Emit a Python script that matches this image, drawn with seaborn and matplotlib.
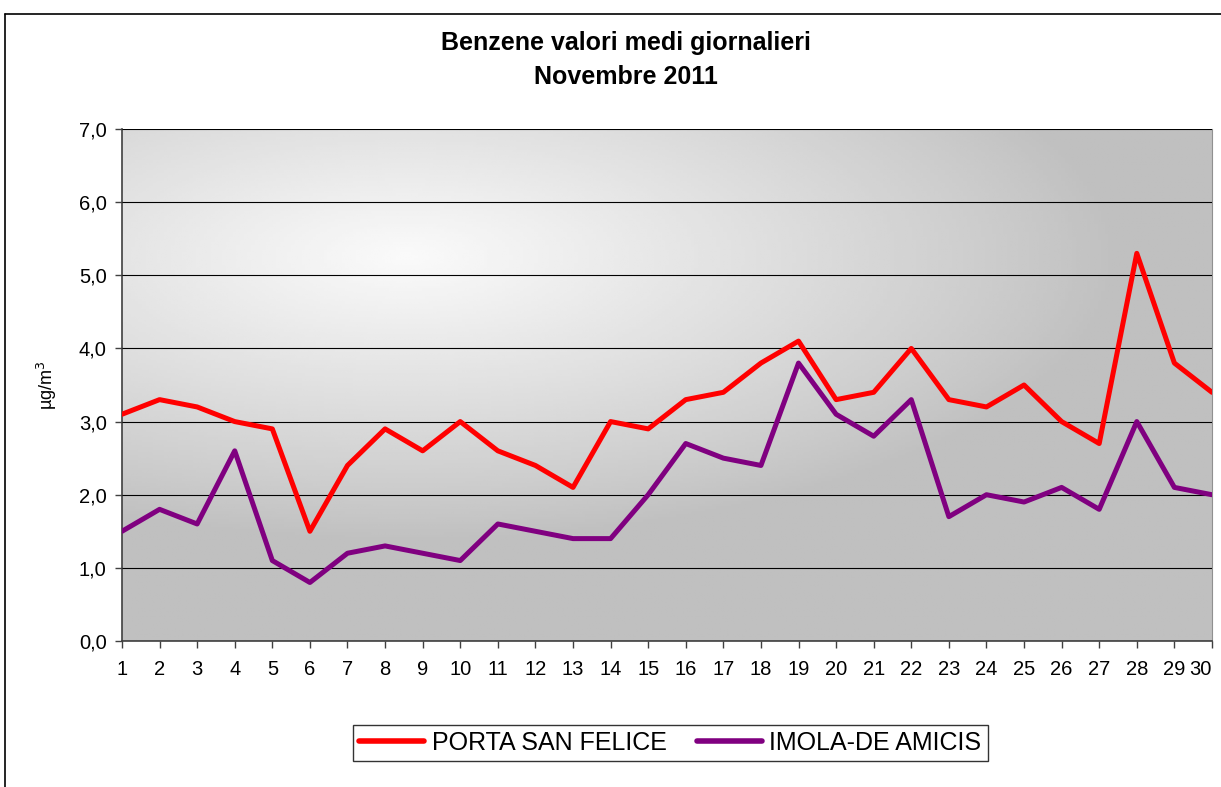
import numpy as np
import pandas as pd
import matplotlib.pyplot as plt
import seaborn as sns
from matplotlib.ticker import FuncFormatter

# --- data ---
giorni = list(range(1, 31))
porta_san_felice = [3.1, 3.3, 3.2, 3.0, 2.9, 1.5, 2.4, 2.9, 2.6, 3.0,
                    2.6, 2.4, 2.1, 3.0, 2.9, 3.3, 3.4, 3.8, 4.1, 3.3,
                    3.4, 4.0, 3.3, 3.2, 3.5, 3.0, 2.7, 5.3, 3.8, 3.4]
imola_de_amicis = [1.5, 1.8, 1.6, 2.6, 1.1, 0.8, 1.2, 1.3, 1.2, 1.1,
                   1.6, 1.5, 1.4, 1.4, 2.0, 2.7, 2.5, 2.4, 3.8, 3.1,
                   2.8, 3.3, 1.7, 2.0, 1.9, 2.1, 1.8, 3.0, 2.1, 2.0]
stazioni = ["PORTA SAN FELICE", "IMOLA-DE AMICIS"]
colori = ["#ff0000", "#800080"]

df = pd.DataFrame({
    "giorno": giorni * 2,
    "valore": porta_san_felice + imola_de_amicis,
    "stazione": [stazioni[0]] * 30 + [stazioni[1]] * 30,
})

sns.set_style("white")
plt.rcParams["font.family"] = ["Liberation Sans", "DejaVu Sans"]
plt.rcParams["text.color"] = "black"
plt.rcParams["xtick.color"] = "black"
plt.rcParams["ytick.color"] = "black"
plt.rcParams["axes.labelcolor"] = "black"

fig = plt.figure(figsize=(12.21, 7.87), dpi=100)
ax = fig.add_axes([0.0999, 0.1855, 0.8927, 0.6506])

# --- gradient background (light top-left, gray bottom/right) ---
gx, gy = np.meshgrid(np.linspace(0, 1, 300), np.linspace(0, 1, 200))
d = np.sqrt(((gx - 0.26) / 1.0) ** 2 + ((gy - 0.75) / 0.85) ** 2)
t = np.clip(1 - d / 0.65, 0, 1)
shade = (192 + (250 - 192) * t ** 0.9) / 255.0
ax.imshow(shade, cmap="gray", vmin=0, vmax=1, origin="lower",
          extent=[0, 1, 0, 1], transform=ax.transAxes, aspect="auto", zorder=0)

sns.lineplot(data=df, x="giorno", y="valore", hue="stazione",
             palette=dict(zip(stazioni, colori)), linewidth=3.6,
             ax=ax, legend=False, zorder=3)

ax.set_xlim(1, 30)
ax.set_ylim(0, 7)
ax.set_xticks(giorni)
ax.set_yticks(np.arange(0, 8, 1))
ax.yaxis.set_major_formatter(FuncFormatter(lambda v, p: f"{v:.1f}".replace(".", ",")))
ax.grid(axis="y", color="black", linewidth=0.8, zorder=1)
ax.set_axisbelow(False)
ax.tick_params(axis="both", direction="out", length=5, width=1, color="#404040",
               labelsize=14.5, bottom=True, left=True)
ax.tick_params(axis="x", pad=9)
ax.tick_params(axis="y", pad=6)
# keep the last day label inside the figure, as in the original
ax.get_xticklabels()[-1].set_horizontalalignment("right")
for s in ["left", "bottom"]:
    ax.spines[s].set_color("#404040")
    ax.spines[s].set_linewidth(1.2)
ax.spines["right"].set_color("#909090")
ax.spines["top"].set_visible(False)
ax.set_xlabel("")
ax.set_ylabel("µg/m$^3$", fontsize=13, labelpad=14)

fig.text(0.513, 0.945, "Benzene valori medi giornalieri", ha="center", va="center",
         fontsize=18, fontweight="bold")
fig.text(0.513, 0.902, "Novembre 2011", ha="center", va="center",
         fontsize=18, fontweight="bold")

handles = [plt.Line2D([], [], color=c, linewidth=4, solid_capstyle="round") for c in colori]
leg = fig.legend(handles, stazioni, loc="center", bbox_to_anchor=(0.549, 0.056),
                 ncol=2, fontsize=18, frameon=True, fancybox=False,
                 edgecolor="black", handlelength=2.6, columnspacing=1.2,
                 borderpad=0.25, handletextpad=0.3)
leg.get_frame().set_linewidth(1.0)

# outer chart border (top and left visible)
fig.add_artist(plt.Line2D([0.004, 1.0], [0.982, 0.982], color="black", linewidth=1.2,
                          transform=fig.transFigure))
fig.add_artist(plt.Line2D([0.004, 0.004], [0.0, 0.982], color="black", linewidth=1.2,
                          transform=fig.transFigure))

fig.savefig("out.png", dpi=100)
